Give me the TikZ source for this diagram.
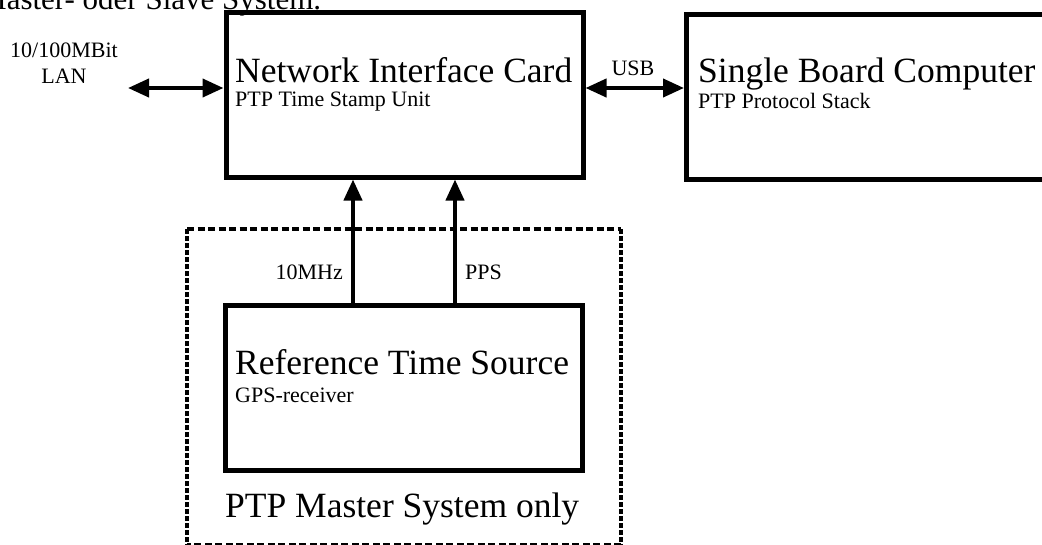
\documentclass[tikz,border=0pt]{standalone}
\usepackage{fontspec}
\setmainfont{Liberation Serif}
\usetikzlibrary{arrows.meta}
\begin{document}
\begin{tikzpicture}[x=1pt,y=-1pt,
  box/.style={draw, line width=5pt, minimum width=357pt, minimum height=165pt, inner sep=0pt},
  big/.style={font=\fontsize{35.5}{40}\selectfont, anchor=base west, inner sep=0pt},
  small/.style={font=\fontsize{22}{26}\selectfont, inner sep=0pt},
  tip/.tip={Triangle[length=21pt,width=18pt]},
  conn/.style={line width=4pt, -tip},
  biconn/.style={line width=4pt, tip-tip},
  hdash/.style={line width=4pt, dash pattern=on 7pt off 3.5pt},
  vdash/.style={line width=4pt, dash pattern=on 4.5pt off 2.5pt}]
  \useasboundingbox (0,0) rectangle (1042,544);
  \clip (0,0) rectangle (1042,544);

  % running text line above the figure
  \node[anchor=base west, inner sep=0pt, font=\fontsize{31}{36}\selectfont] (caption) at (-21,9) {Master- oder Slave System.};

  % optional reference source region
  \coordinate (r1) at (187,229);
  \coordinate (r2) at (621,545);
  \draw[hdash] (r1) -- (r1 -| r2);
  \draw[hdash] (r2) -- (r2 -| r1);
  \draw[vdash] (r1) -- (r1 |- r2);
  \draw[vdash] (r2 |- r1) -- (r2);

  % blocks
  \node[box] (nic) at (404.5,94.5) {};
  \node[box, minimum width=420pt, anchor=north west] (sbc) at (684,12) {};
  \node[box] (rts) at (404,388) {};

  \node[big] (nict) at (235,82) {Network Interface Card};
  \node[small, anchor=base west] (nics) at (235,106) {PTP Time Stamp Unit};
  \node[big] (sbct) at (698,82) {Single Board Computer};
  \node[small, anchor=base west] (sbcs) at (698,108) {PTP Protocol Stack};
  \node[big] (rtst) at (235,374) {Reference Time Source};
  \node[small, anchor=base west] (rtss) at (235,402) {GPS-receiver};
  \node[big] (only) at (225,517) {PTP Master System only};

  % LAN side
  \coordinate (lan) at (128,88);
  \node[small, align=center, anchor=base] (lanl) at (64,83) {10/100MBit\\LAN};
  \draw[biconn] (lan) -- (lan -| nic.west);

  % USB link
  \draw[biconn] (nic.east |- lan) -- (sbc.west |- lan);
  \node[small, anchor=base] (usb) at (633,75) {USB};

  % signals from the time source
  \draw[conn] (353,0 |- rts.north) -- (353,0 |- nic.south);
  \draw[conn] (455,0 |- rts.north) -- (455,0 |- nic.south);
  \node[small, anchor=base east] (mhz) at (343,279) {10MHz};
  \node[small, anchor=base west] (pps) at (465,279) {PPS};
\end{tikzpicture}
\end{document}
